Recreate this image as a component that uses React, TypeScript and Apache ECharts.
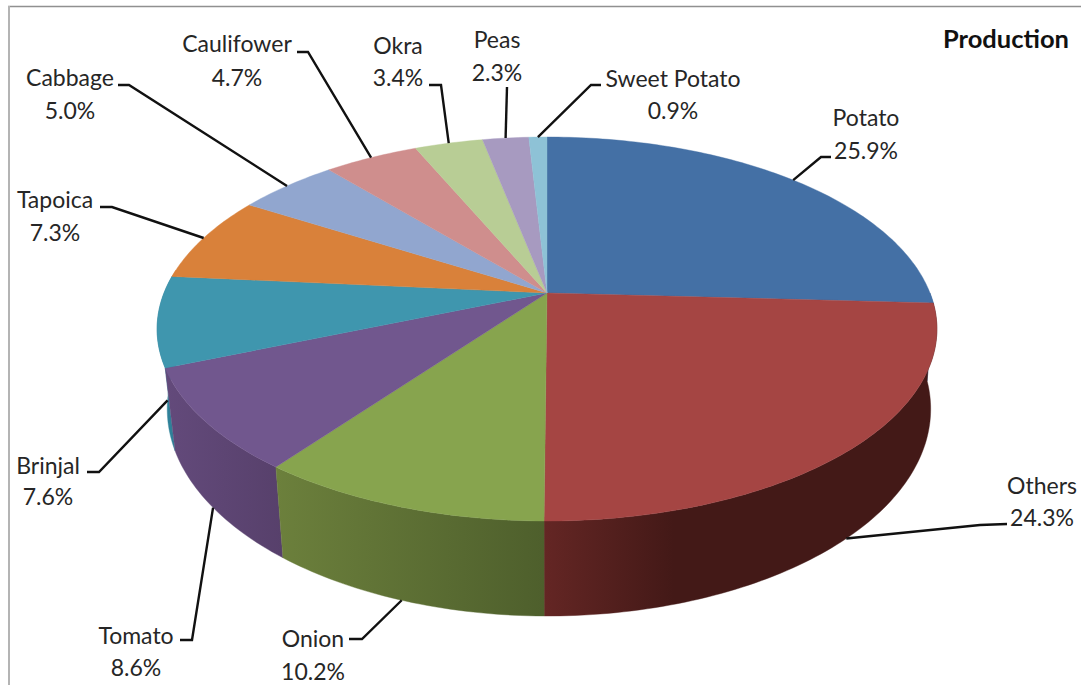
import React, { useEffect, useRef } from "react";
import * as echarts from "echarts";

// Vegetable production shares, clockwise from twelve o'clock.
const categories = ["Potato", "Others", "Onion", "Tomato", "Brinjal", "Tapoica", "Cabbage", "Caulifower", "Okra", "Peas", "Sweet Potato"];
const shares = [25.9, 24.3, 10.2, 8.6, 7.6, 7.3, 5.0, 4.7, 3.4, 2.3, 0.9];
const chartTitle = "Production";

const topColors = ["#4470A5", "#A54543", "#87A44E", "#71578E", "#3F96AE", "#D9813A", "#91A6CF", "#CF8E8D", "#B8CD95", "#A79AC0", "#8EC2D6"];
// Side-wall shading, left to right.
const wallColors: Record<number, [string, string]> = {
  1: ["#642624", "#431917"],
  2: ["#6C803C", "#4E5F2C"],
  3: ["#634A7B", "#57406B"],
  4: ["#2F8199", "#2F8199"],
};

// Label placement: centre x, first line y, second line y, and the two leader knee points.
const labelLayout: [number, number, number, number, number, number, number][] = [
  [866, 117, 150, 831, 157, 821, 157],
  [1042, 485, 517, 1007, 524, 980, 525],
  [313, 638, 671, 349, 639, 362, 639],
  [136, 635, 667, 180, 640, 192, 640],
  [48, 465, 496, 87, 472, 99, 472],
  [55, 199, 232, 100, 207, 112, 207],
  [70, 77, 110, 118, 85, 129, 85],
  [237, 43, 77, 297, 52, 308, 52],
  [398, 45, 77, 429, 85, 441, 85],
  [497, 39, 72, 507, 87, 507, 87],
  [673, 78, 110, 601, 85, 591, 85],
];

// Projective view of the pie disc.
const CX = 547;
const CY = 293;
const RX = 383;
const RY = 185.25;
const PERSPECTIVE = 0.1875;
const DEPTH = 77.2;
const BASE_SHRINK_LEFT = 0.974;
const BASE_SHRINK_RIGHT = 0.984;
const WALL_FROM = 0.25;
const WALL_TO = 0.77;
const FONT = "Lato, 'Open Sans', sans-serif";

type Pt = [number, number];

const total = shares.reduce((a, b) => a + b, 0);
const starts: number[] = [];
shares.reduce((acc, s, i) => {
  starts[i] = acc / total;
  return acc + s;
}, 0);

function rim(f: number): Pt {
  const t = f * Math.PI * 2;
  const w = 1 + PERSPECTIVE * Math.cos(t);
  return [CX + (RX * Math.sin(t)) / w, CY - (RY * Math.cos(t)) / w];
}

function base(f: number): Pt {
  const t = f * Math.PI * 2;
  const w = 1 + PERSPECTIVE * Math.cos(t);
  const [x, y] = rim(f);
  const shrink = x > CX ? BASE_SHRINK_RIGHT : BASE_SHRINK_LEFT;
  return [CX + (x - CX) * shrink, y + DEPTH / w];
}

function arc(from: number, to: number, at: (f: number) => Pt): Pt[] {
  const n = Math.max(2, Math.ceil((to - from) * 360));
  const out: Pt[] = [];
  for (let i = 0; i <= n; i++) out.push(at(from + ((to - from) * i) / n));
  return out;
}

function fractionOf(value: number, index: number) {
  return { from: starts[index], to: starts[index] + value / total };
}

// Walls are painted far-to-near so the front slices overlap the ones behind.
const wallOrder = categories
  .map((_, i) => i)
  .filter((i) => starts[i] + shares[i] / total > WALL_FROM && starts[i] < WALL_TO)
  .sort((a, b) => {
    const mid = (i: number) => Math.cos((starts[i] + shares[i] / total / 2) * Math.PI * 2);
    return mid(b) - mid(a);
  });

export default function App() {
  const ref = useRef<HTMLDivElement>(null);

  useEffect(() => {
    document.body.style.margin = "0";
    const chart = echarts.init(ref.current!, null, { renderer: "svg" });

    const wallItem = (_: any, api: any) => {
      const i = api.value(0);
      const { from, to } = fractionOf(api.value(1), i);
      const a = Math.max(from, WALL_FROM);
      const b = Math.min(to, WALL_TO);
      const points = [...arc(a, b, rim), ...arc(a, b, base).reverse()];
      const xs = points.map((p) => p[0]);
      const [c0, c1] = wallColors[i] ?? [topColors[i], topColors[i]];
      const x0 = Math.min(...xs);
      const x1 = i === 1 ? x0 + 130 : Math.max(...xs);
      const fill = new echarts.graphic.LinearGradient(x0, 0, x1, 0, [
        { offset: 0, color: c0 },
        { offset: 1, color: c1 },
      ], true);
      return { type: "polygon", shape: { points }, style: { fill, stroke: fill, lineWidth: 0.4 } };
    };

    const topItem = (_: any, api: any) => {
      const i = api.value(0);
      const { from, to } = fractionOf(api.value(1), i);
      const points: Pt[] = [[CX, CY], ...arc(from, to, rim)];
      return {
        type: "polygon",
        shape: { points },
        style: { fill: topColors[i], stroke: topColors[i], lineWidth: 0.4 },
      };
    };

    const labelItem = (_: any, api: any) => {
      const i = api.value(0);
      const value = api.value(1);
      const { from, to } = fractionOf(value, i);
      const mid = (from + to) / 2;
      const anchor = Math.cos(mid * Math.PI * 2) < 0 ? base(mid) : rim(mid);
      const [cx, y1, y2, k1x, k1y, k2x, k2y] = labelLayout[i];
      const textStyle = (text: string, y: number) => ({
        type: "text",
        x: cx,
        y,
        style: { text, x: 0, y: 0, fill: "#262626", font: `23px ${FONT}`, textAlign: "center", textVerticalAlign: "middle" },
      });
      return {
        type: "group",
        children: [
          {
            type: "polyline",
            shape: { points: [[k1x, k1y], [k2x, k2y], anchor] },
            style: { fill: "none", stroke: "#111111", lineWidth: 2.4 },
          },
          textStyle(categories[i], y1),
          textStyle(`${value.toFixed(1)}%`, y2),
        ],
      };
    };

    const rows = shares.map((s, i) => [i, s]);

    chart.setOption({
      animation: false,
      backgroundColor: "#ffffff",
      title: {
        text: chartTitle,
        left: 938,
        top: 20,
        textStyle: { fontFamily: FONT, fontSize: 25.5, fontWeight: "bold", color: "#111111" },
      },
      graphic: [
        { type: "line", shape: { x1: 8, y1: 6.5, x2: 1081, y2: 6.5 }, style: { stroke: "#909090", lineWidth: 1.5 } },
        { type: "line", shape: { x1: 9, y1: 6, x2: 9, y2: 685 }, style: { stroke: "#b4b4b4", lineWidth: 2 } },
      ],
      series: [
        { type: "custom", coordinateSystem: "none", z: 2, silent: true, renderItem: wallItem, data: wallOrder.map((i) => rows[i]) },
        { type: "custom", coordinateSystem: "none", z: 3, silent: true, renderItem: topItem, data: rows },
        { type: "custom", coordinateSystem: "none", z: 4, silent: true, renderItem: labelItem, data: rows },
      ],
    });

    return () => chart.dispose();
  }, []);

  return <div ref={ref} style={{ width: 1081, height: 685 }} />;
}
